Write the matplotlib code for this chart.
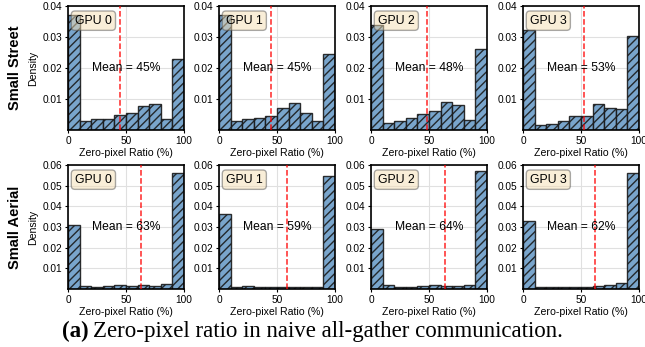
import matplotlib.pyplot as plt
import numpy as np

plt.rcParams['font.family'] = ['Liberation Sans', 'DejaVu Sans']

# bin edges of the zero-pixel ratio histograms (%)
bin_edges = [0, 10, 20, 30, 40, 50, 60, 70, 80, 90, 100]

datasets = ['Small Street', 'Small Aerial']
gpus = ['GPU 0', 'GPU 1', 'GPU 2', 'GPU 3']

# density per bin
street_gpu0 = [0.0370, 0.0029, 0.0037, 0.0037, 0.0048, 0.0054, 0.0077, 0.0083, 0.0035, 0.0228]
street_gpu1 = [0.0370, 0.0029, 0.0037, 0.0040, 0.0046, 0.0070, 0.0086, 0.0054, 0.0029, 0.0244]
street_gpu2 = [0.0340, 0.0021, 0.0030, 0.0039, 0.0051, 0.0060, 0.0089, 0.0081, 0.0031, 0.0260]
street_gpu3 = [0.0322, 0.0015, 0.0018, 0.0028, 0.0044, 0.0046, 0.0084, 0.0070, 0.0069, 0.0302]

aerial_gpu0 = [0.0308, 0.0015, 0.0011, 0.0015, 0.0020, 0.0015, 0.0020, 0.0016, 0.0024, 0.0560]
aerial_gpu1 = [0.0365, 0.0010, 0.0013, 0.0010, 0.0010, 0.0012, 0.0010, 0.0011, 0.0010, 0.0547]
aerial_gpu2 = [0.0292, 0.0018, 0.0012, 0.0012, 0.0015, 0.0018, 0.0015, 0.0015, 0.0020, 0.0573]
aerial_gpu3 = [0.0328, 0.0008, 0.0008, 0.0008, 0.0008, 0.0011, 0.0013, 0.0018, 0.0028, 0.0563]

street_means = [45, 45, 48, 53]
aerial_means = [63, 59, 64, 62]

all_hist = [[street_gpu0, street_gpu1, street_gpu2, street_gpu3],
            [aerial_gpu0, aerial_gpu1, aerial_gpu2, aerial_gpu3]]
all_means = [street_means, aerial_means]
row_ymax = [0.04, 0.06]
row_yticks = [[0.01, 0.02, 0.03, 0.04],
              [0.01, 0.02, 0.03, 0.04, 0.05, 0.06]]


def main():
    fig = plt.figure(figsize=(6.45, 3.47), dpi=100)
    W, H = 645.0, 347.0
    lefts = [68, 219, 371, 523]
    ax_w = 116
    tops = [6, 165]
    ax_h = 124
    serif = ['Liberation Serif', 'DejaVu Serif']

    edges = np.array(bin_edges)
    for r in range(2):
        for c in range(4):
            ax = fig.add_axes([lefts[c] / W, 1 - (tops[r] + ax_h) / H, ax_w / W, ax_h / H])
            ax.set_axisbelow(True)
            ax.grid(True, color='#e0e0e0', linewidth=0.8)
            ax.bar(edges[:-1], all_hist[r][c], width=np.diff(edges), align='edge',
                   color='#6b9bc7', edgecolor='#1a1a1a', linewidth=1.0,
                   hatch='////', alpha=0.9, zorder=2)
            ax.axvline(all_means[r][c], color='red', linestyle='--', linewidth=1.1,
                       alpha=0.85, zorder=3)
            ax.text(0.5, 0.5, 'Mean = %d%%' % all_means[r][c], transform=ax.transAxes,
                    ha='center', va='center', fontsize=8.7, zorder=4)
            ax.text(0.06, 0.93, gpus[c], transform=ax.transAxes, ha='left', va='top',
                    fontsize=8.8, zorder=5,
                    bbox=dict(boxstyle='round,pad=0.3', facecolor='wheat', alpha=0.5,
                              edgecolor='#555555'))
            ax.set_xlim(0, 100)
            ax.set_ylim(0, row_ymax[r])
            ax.set_xticks([0, 50, 100])
            ax.set_yticks(row_yticks[r])
            ax.set_yticklabels(['%.2f' % v for v in row_yticks[r]])
            ax.tick_params(labelsize=7.3, length=2, width=0.8, pad=2)
            ax.set_xlabel('Zero-pixel Ratio (%)', fontsize=7.6, labelpad=1.5)
            for s in ax.spines.values():
                s.set_color('black')
                s.set_linewidth(1.2)
            if c == 0:
                ax.set_ylabel('Density', fontsize=7.6, labelpad=3)
        fig.text(15 / W, 1 - (tops[r] + ax_h / 2) / H, datasets[r], rotation=90,
                 ha='center', va='center', fontsize=10.5, fontweight='bold')

    fig.text(62 / W, 1 - 337 / H, '(a)', fontsize=16.5, fontweight='bold',
             family=serif, ha='left', va='baseline')
    fig.text(93 / W, 1 - 337 / H, 'Zero-pixel ratio in naive all-gather communication.',
             fontsize=16.5, family=serif, ha='left', va='baseline')

    fig.savefig('out.png', dpi=100)


if __name__ == '__main__':
    main()
